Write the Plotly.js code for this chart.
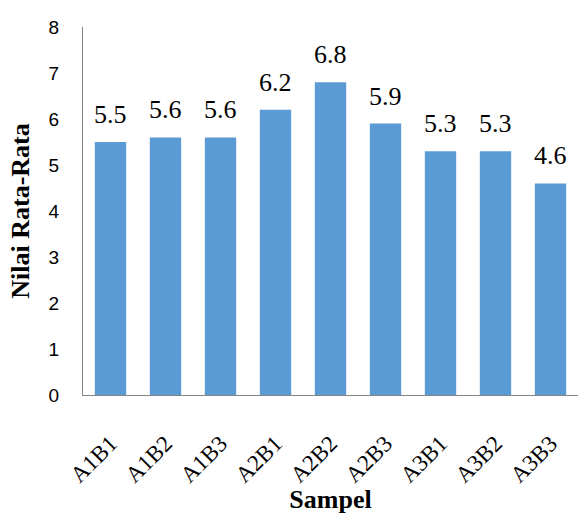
<!DOCTYPE html>
<html>
<head>
<meta charset="utf-8">
<script src="https://cdn.plot.ly/plotly-3.0.1.min.js"></script>
<style>html,body{margin:0;padding:0;background:#fff;}#chart{width:579px;height:514px;}</style>
</head>
<body>
<div id="chart"></div>
<script>
// Mean score per sample
const samples = ['A1B1', 'A1B2', 'A1B3', 'A2B1', 'A2B2', 'A2B3', 'A3B1', 'A3B2', 'A3B3'];
const meanValues = [5.5, 5.6, 5.6, 6.2, 6.8, 5.9, 5.3, 5.3, 4.6];
const yTicks = [0, 1, 2, 3, 4, 5, 6, 7, 8];

const serif = 'Liberation Serif, Times New Roman, serif';
const sans = 'Liberation Sans, Arial, sans-serif';

const trace = {
  type: 'bar',
  x: samples,
  y: meanValues,
  marker: { color: '#5B9BD5' },
  hoverinfo: 'x+y'
};

// Value labels sit a little above each bar
const valueLabels = samples.map((s, i) => ({
  x: s,
  y: meanValues[i],
  xref: 'x',
  yref: 'y',
  text: meanValues[i].toFixed(1),
  showarrow: false,
  yanchor: 'bottom',
  yshift: 11,
  font: { family: serif, size: 26, color: '#000' }
}));

const layout = {
  width: 579,
  height: 514,
  margin: { l: 83, r: 1, t: 27, b: 119 },
  paper_bgcolor: '#fff',
  plot_bgcolor: '#fff',
  bargap: 0.43,
  showlegend: false,
  annotations: valueLabels,
  xaxis: {
    showline: true,
    linecolor: '#868686',
    linewidth: 1,
    ticks: '',
    tickangle: -45,
    tickfont: { family: serif, size: 23, color: '#000' },
    ticklabelstandoff: 25,
    title: { text: 'Sampel', font: { family: serif, size: 26, color: '#000', weight: 'bold' }, standoff: 4 }
  },
  yaxis: {
    range: [0, 8],
    tickvals: yTicks,
    showline: true,
    linecolor: '#868686',
    linewidth: 1,
    showgrid: false,
    zeroline: false,
    ticks: '',
    tickfont: { family: sans, size: 19, color: '#000' },
    ticklabelstandoff: 19,
    title: { text: 'Nilai Rata-Rata', font: { family: serif, size: 26, color: '#000', weight: 'bold' }, standoff: 11 }
  }
};

Plotly.newPlot('chart', [trace], layout, { displayModeBar: false, staticPlot: true });
</script>
</body>
</html>
